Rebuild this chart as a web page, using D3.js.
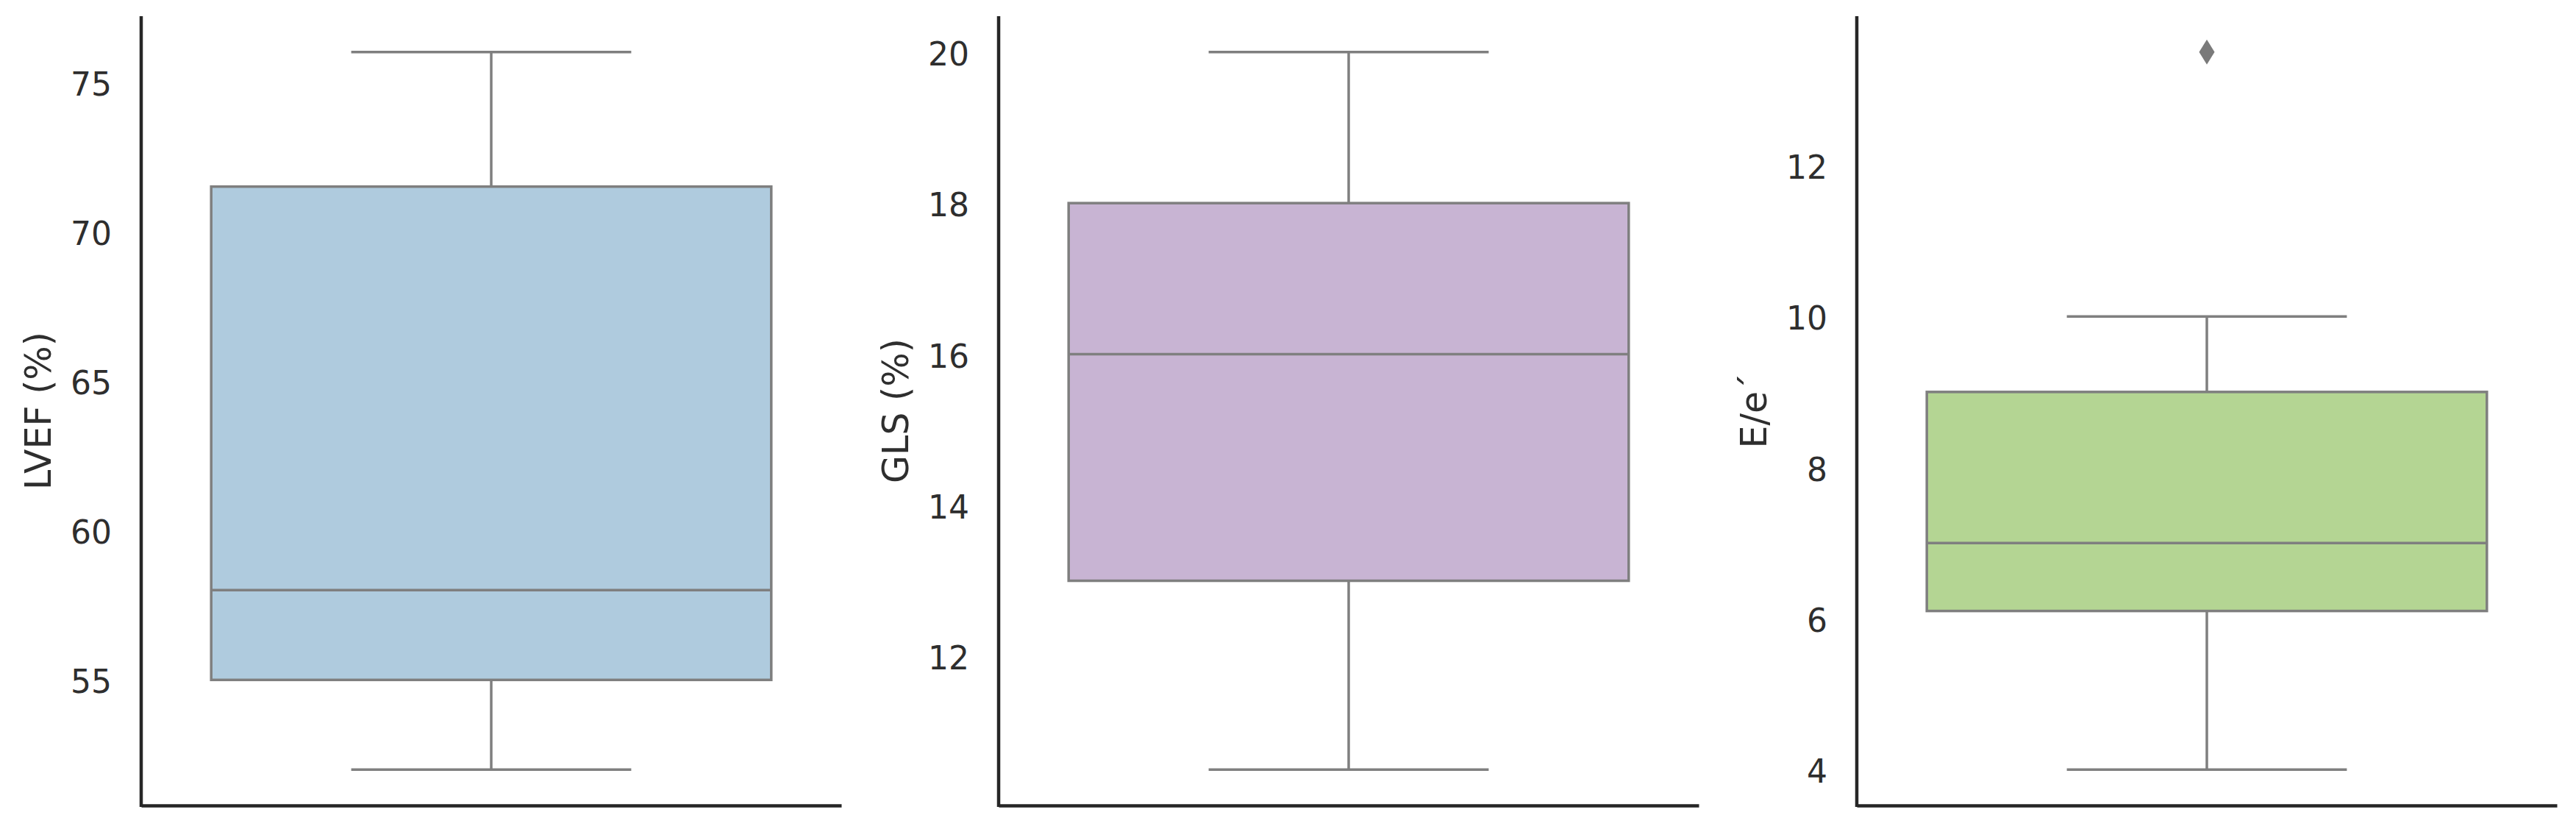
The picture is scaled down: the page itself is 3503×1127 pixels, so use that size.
<!DOCTYPE html>
<html><head><meta charset="utf-8">
<script src="https://cdn.jsdelivr.net/npm/d3@7"></script>
<style>body{margin:0;background:#fff}svg{display:block}</style>
</head><body><svg id="c" width="3503" height="1127"></svg>
<script>
// ---- data ----
const measures = ["LVEF (%)", "GLS (%)", "E/e\u00B4"];
const whiskerLow = [52, 10.5, 4];
const q1 = [55, 13, 6.1];
const median = [58, 16, 7];
const q3 = [71.5, 18, 9];
const whiskerHigh = [76, 20, 10];
const outliers = [[], [], [13.5]];
const tickValues = [[55, 60, 65, 70, 75], [12, 14, 16, 18, 20], [4, 6, 8, 10, 12]];
const fills = ["#afcbde", "#c8b4d3", "#b4d593"];

// ---- layout ----
const W = 3503, H = 1127;
const panelLeft = [192, 1358, 2525];
const panelW = 952, plotTop = 22, plotBottom = 1095;
const boxColor = "#7f7f7f", spine = "#262626", textColor = "#2e2e2e";
const font = "DejaVu Sans";
const lw = 3.5;

const svg = d3.select("#c");
svg.append("rect").attr("width", W).attr("height", H).attr("fill", "#fff");

measures.forEach((m, i) => {
  const g = svg.append("g").attr("transform", `translate(${panelLeft[i]},0)`);
  const lo = Math.min(whiskerLow[i], ...outliers[i]);
  const hi = Math.max(whiskerHigh[i], ...outliers[i]);
  const pad = (hi - lo) * 0.05;
  const y = d3.scaleLinear().domain([lo - pad, hi + pad]).range([plotBottom, plotTop]);
  const x = d3.scaleLinear().domain([-0.5, 0.5]).range([0, panelW]);
  const cx = x(0);
  const bx0 = x(-0.4), bx1 = x(0.4);
  const cx0 = x(-0.2), cx1 = x(0.2);

  // whiskers
  g.append("line").attr("x1", cx).attr("x2", cx).attr("y1", y(q3[i])).attr("y2", y(whiskerHigh[i]))
    .attr("stroke", boxColor).attr("stroke-width", lw);
  g.append("line").attr("x1", cx).attr("x2", cx).attr("y1", y(q1[i])).attr("y2", y(whiskerLow[i]))
    .attr("stroke", boxColor).attr("stroke-width", lw);
  g.append("line").attr("x1", cx0).attr("x2", cx1).attr("y1", y(whiskerHigh[i])).attr("y2", y(whiskerHigh[i]))
    .attr("stroke", boxColor).attr("stroke-width", lw);
  g.append("line").attr("x1", cx0).attr("x2", cx1).attr("y1", y(whiskerLow[i])).attr("y2", y(whiskerLow[i]))
    .attr("stroke", boxColor).attr("stroke-width", lw);
  // box
  g.append("rect").attr("x", bx0).attr("width", bx1 - bx0)
    .attr("y", y(q3[i])).attr("height", y(q1[i]) - y(q3[i]))
    .attr("fill", fills[i]).attr("stroke", boxColor).attr("stroke-width", lw);
  // median
  g.append("line").attr("x1", bx0).attr("x2", bx1).attr("y1", y(median[i])).attr("y2", y(median[i]))
    .attr("stroke", boxColor).attr("stroke-width", lw);
  // outliers (thin diamond)
  g.selectAll("path.out").data(outliers[i]).join("path").attr("class", "out")
    .attr("d", d => { const yy = y(d); return `M${cx},${yy - 17} L${cx + 10.5},${yy} L${cx},${yy + 17} L${cx - 10.5},${yy} Z`; })
    .attr("fill", "#7a7a7a");

  // y axis
  const ya = g.append("g").call(d3.axisLeft(y).tickValues(tickValues[i]).tickSize(0).tickSizeOuter(0).tickPadding(40));
  ya.select(".domain").remove();
  ya.selectAll("text").attr("font-family", font).attr("font-size", 44).attr("fill", textColor).attr("dy", "0.4em");
  // spines
  const xa = g.append("g").attr("transform", `translate(0,${plotBottom})`)
    .call(d3.axisBottom(x).tickValues([]).tickSizeOuter(0));
  xa.select(".domain").attr("stroke", spine).attr("stroke-width", 4.5);
  g.append("line").attr("x1", 0).attr("x2", 0).attr("y1", plotTop).attr("y2", plotBottom + 2)
    .attr("stroke", spine).attr("stroke-width", 4.5);

  // label
  g.append("text").attr("transform", `translate(-123,${(plotTop + plotBottom) / 2}) rotate(-90)`)
    .attr("text-anchor", "middle").attr("font-family", font).attr("font-size", 49)
    .attr("fill", textColor).text(m);
});
</script>
</body></html>
